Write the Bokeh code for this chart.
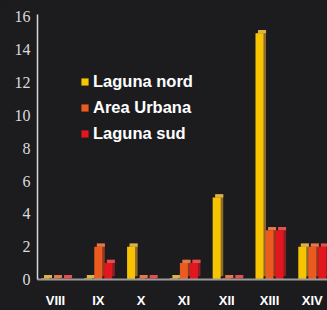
import numpy as np
from bokeh.plotting import figure
from bokeh.models import ColumnDataSource, Range1d, Legend, LegendItem, FixedTicker
from bokeh.embed import file_html
from bokeh.resources import INLINE

categories = ["VIII", "IX", "X", "XI", "XII", "XIII", "XIV"]
laguna_nord = [0, 0, 2, 0, 5, 15, 2]
area_urbana = [0, 2, 0, 1, 0, 3, 2]
laguna_sud = [0, 1, 0, 1, 0, 3, 2]
series_names = ["Laguna nord", "Area Urbana", "Laguna sud"]
y_ticks = [0, 2, 4, 6, 8, 10, 12, 14, 16]

front_colors = ["#f6c400", "#eb5a1e", "#e2161f"]
side_colors = ["#8c6a2e", "#93381e", "#8c1f22"]
top_colors = ["#dcb24a", "#e07a4e", "#e05050"]

BG = "#1c1b1e"
p = figure(width=327, height=310, output_backend="svg", toolbar_location=None,
           x_range=Range1d(-0.42, 6.355), y_range=Range1d(0, 16.15),
           background_fill_color=BG, border_fill_color=BG,
           min_border_left=37, min_border_right=0, min_border_top=14, min_border_bottom=26)
p.outline_line_color = None
p.grid.visible = False

x = np.arange(len(categories))
w = 0.187
offs = [-0.234, 0.0, 0.234]
dx, dy = 0.06, 0.2
items = []
for vals, name, off, fc, sc, tc in zip([laguna_nord, area_urbana, laguna_sud], series_names, offs,
                                      front_colors, side_colors, top_colors):
    v = np.array(vals, dtype=float)
    top = np.maximum(v, 0.08)
    src = ColumnDataSource(dict(left=x + off - w / 2, right=x + off + w / 2, top=top,
                                bl=x + off - w / 2 + dx, br=x + off + w / 2 + dx, bt=top + dy,
                                bb=np.full_like(top, dy)))
    p.quad(left="bl", right="br", bottom="bb", top="bt", source=src, fill_color=sc, line_color=None)
    p.quad(left="bl", right="br", bottom="top", top="bt", source=src, fill_color=tc, line_color=None)
    r = p.quad(left="left", right="right", bottom=0, top="top", source=src, fill_color=fc, line_color=None)
    items.append(LegendItem(label=name, renderers=[r]))

legend = Legend(items=items, location=(43, 136), background_fill_alpha=0, border_line_color=None,
                label_text_color="white", label_text_font="Liberation Sans", label_text_font_style="bold",
                label_text_font_size="16.5px", glyph_width=9, glyph_height=9, label_height=19,
                spacing=7, padding=0, margin=0, label_standoff=4)
p.add_layout(legend, "center")

p.yaxis.ticker = FixedTicker(ticks=y_ticks)
p.yaxis.axis_line_color = "#d8d8d8"
p.yaxis.axis_line_width = 1.5
p.yaxis.major_tick_line_color = None
p.yaxis.major_tick_out = 0
p.yaxis.major_tick_in = 0
p.yaxis.minor_tick_line_color = None
p.yaxis.major_label_text_color = "#dcdcdc"
p.yaxis.major_label_text_font = "Liberation Serif"
p.yaxis.major_label_text_font_size = "16px"
p.yaxis.major_label_standoff = 7

p.xaxis.ticker = FixedTicker(ticks=list(x))
p.xaxis.major_label_overrides = {int(i): c for i, c in zip(x, categories)}
p.xaxis.axis_line_color = "#9a9a9a"
p.xaxis.axis_line_width = 2
p.xaxis.major_tick_line_color = None
p.xaxis.major_tick_out = 0
p.xaxis.major_tick_in = 0
p.xaxis.minor_tick_line_color = None
p.xaxis.major_label_text_color = "white"
p.xaxis.major_label_text_font = "Liberation Sans"
p.xaxis.major_label_text_font_style = "bold"
p.xaxis.major_label_text_font_size = "13px"
p.xaxis.major_label_standoff = 13

html = file_html(p, INLINE)
html = html.replace("</head>", "<style>html, body { background: %s !important; }</style></head>" % BG, 1)
open("out.html", "w").write(html)
